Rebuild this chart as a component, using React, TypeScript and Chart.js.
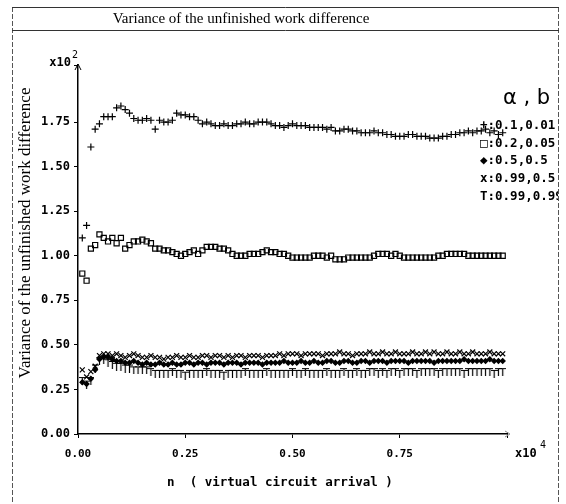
import React, { useEffect, useRef } from "react";
import { Chart, registerables } from "chart.js";
Chart.register(...registerables);

const xValues = [
  0.01, 0.02, 0.03, 0.04, 0.05, 0.06, 0.07, 0.08, 0.09, 0.10,
  0.11, 0.12, 0.13, 0.14, 0.15, 0.16, 0.17, 0.18, 0.19, 0.20,
  0.21, 0.22, 0.23, 0.24, 0.25, 0.26, 0.27, 0.28, 0.29, 0.30,
  0.31, 0.32, 0.33, 0.34, 0.35, 0.36, 0.37, 0.38, 0.39, 0.40,
  0.41, 0.42, 0.43, 0.44, 0.45, 0.46, 0.47, 0.48, 0.49, 0.50,
  0.51, 0.52, 0.53, 0.54, 0.55, 0.56, 0.57, 0.58, 0.59, 0.60,
  0.61, 0.62, 0.63, 0.64, 0.65, 0.66, 0.67, 0.68, 0.69, 0.70,
  0.71, 0.72, 0.73, 0.74, 0.75, 0.76, 0.77, 0.78, 0.79, 0.80,
  0.81, 0.82, 0.83, 0.84, 0.85, 0.86, 0.87, 0.88, 0.89, 0.90,
  0.91, 0.92, 0.93, 0.94, 0.95, 0.96, 0.97, 0.98, 0.99,
];

// + : a=0.1, b=0.01
const seriesPlus = [
  1.10, 1.17, 1.61, 1.71, 1.74, 1.78, 1.78, 1.78, 1.83, 1.84,
  1.82, 1.80, 1.77, 1.76, 1.76, 1.77, 1.76, 1.71, 1.76, 1.75,
  1.75, 1.76, 1.80, 1.79, 1.79, 1.78, 1.78, 1.76, 1.74, 1.75,
  1.74, 1.73, 1.73, 1.74, 1.73, 1.73, 1.74, 1.74, 1.75, 1.74,
  1.74, 1.75, 1.75, 1.75, 1.74, 1.73, 1.73, 1.72, 1.73, 1.74,
  1.73, 1.73, 1.73, 1.72, 1.72, 1.72, 1.72, 1.71, 1.72, 1.70,
  1.70, 1.71, 1.71, 1.70, 1.70, 1.69, 1.69, 1.69, 1.70, 1.69,
  1.69, 1.68, 1.68, 1.67, 1.67, 1.67, 1.68, 1.68, 1.67, 1.67,
  1.67, 1.66, 1.66, 1.66, 1.67, 1.67, 1.68, 1.68, 1.69, 1.69,
  1.70, 1.69, 1.70, 1.70, 1.71, 1.69, 1.70, 1.68, 1.69,
];

// □ : a=0.2, b=0.05
const seriesSquare = [
  0.90, 0.86, 1.04, 1.06, 1.12, 1.10, 1.08, 1.10, 1.07, 1.10,
  1.04, 1.06, 1.08, 1.08, 1.09, 1.08, 1.07, 1.04, 1.04, 1.03,
  1.03, 1.02, 1.01, 1.00, 1.01, 1.02, 1.03, 1.01, 1.03, 1.05,
  1.05, 1.05, 1.04, 1.04, 1.03, 1.01, 1.00, 1.00, 1.00, 1.01,
  1.01, 1.01, 1.02, 1.03, 1.02, 1.02, 1.01, 1.01, 1.00, 0.99,
  0.99, 0.99, 0.99, 0.99, 1.00, 1.00, 1.00, 0.99, 1.00, 0.98,
  0.98, 0.98, 0.99, 0.99, 0.99, 0.99, 0.99, 0.99, 1.00, 1.01,
  1.01, 1.01, 1.00, 1.01, 1.00, 0.99, 0.99, 0.99, 0.99, 0.99,
  0.99, 0.99, 0.99, 1.00, 1.00, 1.01, 1.01, 1.01, 1.01, 1.01,
  1.00, 1.00, 1.00, 1.00, 1.00, 1.00, 1.00, 1.00, 1.00,
];

// ◆ : a=0.5, b=0.5
const seriesDiamond = [
  0.29, 0.28, 0.31, 0.36, 0.42, 0.43, 0.43, 0.42, 0.41, 0.41,
  0.40, 0.40, 0.41, 0.40, 0.39, 0.40, 0.39, 0.39, 0.40, 0.39,
  0.39, 0.40, 0.39, 0.39, 0.40, 0.40, 0.39, 0.40, 0.40, 0.39,
  0.40, 0.40, 0.40, 0.39, 0.40, 0.40, 0.40, 0.39, 0.40, 0.40,
  0.40, 0.40, 0.39, 0.40, 0.40, 0.40, 0.40, 0.41, 0.40, 0.40,
  0.40, 0.41, 0.40, 0.40, 0.41, 0.40, 0.40, 0.41, 0.41, 0.40,
  0.40, 0.41, 0.41, 0.40, 0.40, 0.41, 0.41, 0.40, 0.41, 0.41,
  0.41, 0.40, 0.41, 0.41, 0.41, 0.41, 0.40, 0.41, 0.41, 0.41,
  0.41, 0.41, 0.40, 0.41, 0.41, 0.41, 0.41, 0.41, 0.41, 0.42,
  0.41, 0.41, 0.41, 0.41, 0.41, 0.42, 0.41, 0.41, 0.41,
];

// x : a=0.99, b=0.5
const seriesCross = [
  0.36, 0.32, 0.35, 0.38, 0.44, 0.45, 0.45, 0.44, 0.45, 0.44,
  0.43, 0.44, 0.45, 0.44, 0.43, 0.43, 0.44, 0.43, 0.43, 0.42,
  0.43, 0.43, 0.44, 0.43, 0.43, 0.44, 0.43, 0.43, 0.44, 0.44,
  0.43, 0.44, 0.44, 0.43, 0.44, 0.43, 0.44, 0.44, 0.43, 0.44,
  0.44, 0.44, 0.43, 0.44, 0.44, 0.44, 0.45, 0.44, 0.45, 0.45,
  0.45, 0.44, 0.45, 0.45, 0.45, 0.45, 0.44, 0.45, 0.45, 0.45,
  0.46, 0.45, 0.45, 0.44, 0.45, 0.45, 0.45, 0.46, 0.45, 0.45,
  0.46, 0.45, 0.45, 0.46, 0.45, 0.45, 0.45, 0.46, 0.45, 0.45,
  0.46, 0.45, 0.46, 0.45, 0.45, 0.46, 0.45, 0.45, 0.46, 0.45,
  0.45, 0.46, 0.45, 0.45, 0.45, 0.46, 0.45, 0.45, 0.45,
];

// T : a=0.99, b=0.99
const seriesT = [
  0.30, 0.28, 0.30, 0.37, 0.41, 0.42, 0.40, 0.39, 0.38, 0.38,
  0.37, 0.37, 0.36, 0.36, 0.36, 0.36, 0.35, 0.34, 0.34, 0.34,
  0.34, 0.35, 0.34, 0.34, 0.33, 0.34, 0.34, 0.34, 0.34, 0.35,
  0.34, 0.34, 0.34, 0.33, 0.34, 0.34, 0.34, 0.34, 0.35, 0.34,
  0.34, 0.34, 0.34, 0.35, 0.34, 0.34, 0.34, 0.34, 0.34, 0.35,
  0.34, 0.34, 0.35, 0.34, 0.34, 0.34, 0.34, 0.35, 0.34, 0.34,
  0.34, 0.35, 0.34, 0.34, 0.35, 0.34, 0.34, 0.35, 0.35, 0.34,
  0.35, 0.34, 0.35, 0.35, 0.34, 0.35, 0.35, 0.35, 0.34, 0.35,
  0.35, 0.35, 0.35, 0.34, 0.35, 0.35, 0.35, 0.35, 0.35, 0.34,
  0.35, 0.35, 0.35, 0.35, 0.35, 0.35, 0.34, 0.35, 0.35,
];

const legendParams = "α , b";
const legendLabels = ["+:0.1,0.01", "□:0.2,0.05", "◆:0.5,0.5", "x:0.99,0.5", "T:0.99,0.99"];
const titleText = "Variance of the unfinished work difference";
const yAxisTitle = "Variance of the unfinished work difference";
const xAxisTitle = "n  ( virtual circuit arrival )";

const MONO = "'DejaVu Sans Mono', monospace";
const SERIF = "'Liberation Serif', 'DejaVu Serif', serif";

function makeTMarker(): HTMLCanvasElement {
  const c = document.createElement("canvas");
  c.width = 7;
  c.height = 9;
  const g = c.getContext("2d")!;
  g.strokeStyle = "#000";
  g.lineWidth = 1.2;
  g.beginPath();
  g.moveTo(0, 1.5);
  g.lineTo(7, 1.5);
  g.moveTo(3.5, 1.5);
  g.lineTo(3.5, 9);
  g.stroke();
  return c;
}

const toPoints = (ys: number[]) => ys.map((y, i) => ({ x: xValues[i], y }));

const decorPlugin = {
  id: "decor",
  afterDraw(chart: any) {
    const ctx: CanvasRenderingContext2D = chart.ctx;
    const { left, right, top, bottom } = chart.chartArea;
    ctx.save();
    ctx.fillStyle = "#000";

    // title
    ctx.font = `15px ${SERIF}`;
    ctx.textAlign = "center";
    ctx.textBaseline = "middle";
    ctx.fillText(titleText, 241, 19);

    // y axis title
    ctx.save();
    ctx.translate(26, 233);
    ctx.rotate(-Math.PI / 2);
    ctx.font = `17px ${SERIF}`;
    ctx.fillText(yAxisTitle, 0, 0);
    ctx.restore();

    // x axis title
    ctx.font = `bold 12.5px ${MONO}`;
    ctx.textAlign = "center";
    ctx.fillText(xAxisTitle, 280, 483);

    // exponents
    ctx.font = `bold 12px ${MONO}`;
    ctx.textAlign = "right";
    ctx.fillText("x10", 71, 63);
    ctx.textAlign = "left";
    ctx.fillText("x10", 515, 454);
    ctx.font = `10px ${MONO}`;
    ctx.fillText("2", 72, 55);
    ctx.fillText("4", 540, 445);

    // legend
    ctx.save();
    ctx.beginPath();
    ctx.rect(0, 0, 558, 504);
    ctx.clip();
    ctx.font = `21px 'DejaVu Sans', sans-serif`;
    ctx.textAlign = "left";
    ctx.fillText(legendParams, 503, 99);
    ctx.font = `bold 12.5px ${MONO}`;
    const ys = [126, 144, 161, 179, 197];
    legendLabels.forEach((t, i) => ctx.fillText(t, 480, ys[i]));
    ctx.restore();

    // arrows
    ctx.strokeStyle = "#000";
    ctx.lineWidth = 1;
    ctx.beginPath();
    ctx.moveTo(left - 3, top + 5);
    ctx.lineTo(left, top - 1);
    ctx.lineTo(left + 3, top + 5);
    ctx.stroke();
    ctx.strokeStyle = "#888";
    ctx.beginPath();
    ctx.moveTo(right - 2, bottom - 3);
    ctx.lineTo(right + 3, bottom);
    ctx.lineTo(right - 2, bottom + 3);
    ctx.stroke();

    // frame
    ctx.strokeStyle = "#555";
    ctx.setLineDash([5, 2]);
    ctx.beginPath();
    ctx.moveTo(12.5, 7);
    ctx.lineTo(12.5, 504);
    ctx.moveTo(558.5, 7);
    ctx.lineTo(558.5, 504);
    ctx.stroke();
    ctx.setLineDash([]);
    ctx.strokeStyle = "#333";
    ctx.beginPath();
    ctx.moveTo(12, 7.5);
    ctx.lineTo(559, 7.5);
    ctx.moveTo(12, 30.5);
    ctx.lineTo(559, 30.5);
    ctx.stroke();
    ctx.restore();
  },
};

export default function App() {
  const ref = useRef<HTMLCanvasElement>(null);
  useEffect(() => {
    if (!ref.current) return;
    const tMarker = makeTMarker();
    const base = { showLine: false, borderColor: "#000", borderWidth: 1.2 };
    const chart = new Chart(ref.current, {
      type: "scatter",
      data: {
        datasets: [
          { ...base, label: legendLabels[0], data: toPoints(seriesPlus), pointStyle: "cross", pointRadius: 3.5, backgroundColor: "#000" },
          { ...base, label: legendLabels[1], data: toPoints(seriesSquare), pointStyle: "rect", pointRadius: 3.6, backgroundColor: "rgba(255,255,255,0)" },
          { ...base, label: legendLabels[2], data: toPoints(seriesDiamond), pointStyle: "rectRot", pointRadius: 2.4, backgroundColor: "#000" },
          { ...base, label: legendLabels[3], data: toPoints(seriesCross), pointStyle: "crossRot", pointRadius: 3.5, backgroundColor: "#000" },
          { ...base, label: legendLabels[4], data: toPoints(seriesT), pointStyle: tMarker as any, pointRadius: 4, backgroundColor: "#000" },
        ],
      },
      options: {
        responsive: false,
        animation: false,
        devicePixelRatio: 1,
        layout: { padding: { left: 0, top: 65, right: 59, bottom: 0 } },
        plugins: { legend: { display: false }, tooltip: { enabled: false }, title: { display: false } },
        scales: {
          x: {
            type: "linear",
            min: 0,
            max: 1.0,
            afterFit: (s: any) => { s.height = 70; },
            border: { display: true, color: "#000", width: 1.5 },
            grid: { drawOnChartArea: false, drawTicks: true, tickLength: 4, color: "#000" },
            ticks: {
              stepSize: 0.25,
              padding: 10,
              color: "#000",
              font: { family: MONO, size: 11, weight: "bold" },
              maxRotation: 0,
              callback: (v: any) => (Number(v) < 0.99 ? Number(v).toFixed(2) : ""),
            },
          },
          y: {
            type: "linear",
            min: 0,
            max: 2.07,
            afterFit: (s: any) => { s.width = 78; },
            border: { display: true, color: "#000", width: 1.5 },
            grid: { drawOnChartArea: false, drawTicks: true, tickLength: 4, color: "#000" },
            ticks: {
              stepSize: 0.25,
              padding: 4,
              color: "#000",
              font: { family: MONO, size: 12, weight: "bold" },
              callback: (v: any) => (Number(v) < 1.8 ? Number(v).toFixed(2) : ""),
            },
          },
        },
      },
      plugins: [decorPlugin],
    });
    return () => chart.destroy();
  }, []);
  return (
    <div style={{ position: "fixed", left: 0, top: 0, width: 566, height: 504, background: "#fff" }}>
      <canvas ref={ref} width={566} height={504} />
    </div>
  );
}
